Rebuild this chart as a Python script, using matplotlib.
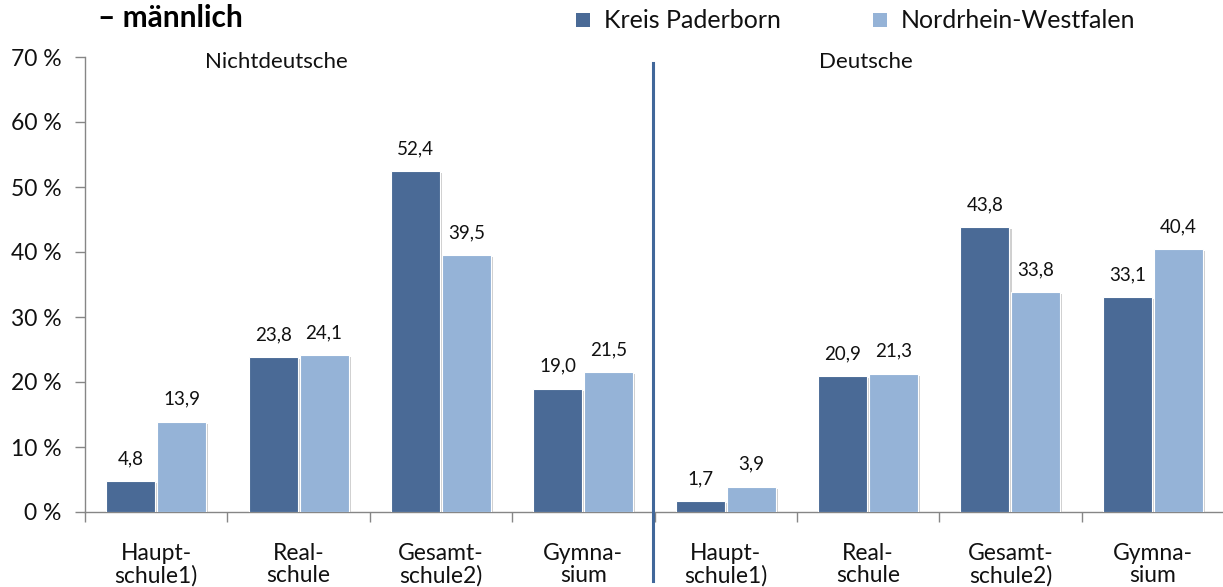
import matplotlib
matplotlib.use("Agg")
import matplotlib.pyplot as plt
import matplotlib.patheffects as pe
from matplotlib.lines import Line2D
from matplotlib.patches import Rectangle
import numpy as np

plt.rcParams['font.family'] = ['Lato', 'DejaVu Sans']

categories = ["Haupt-\nschule1)", "Real-\nschule", "Gesamt-\nschule2)", "Gymna-\nsium",
              "Haupt-\nschule1)", "Real-\nschule", "Gesamt-\nschule2)", "Gymna-\nsium"]
kreis = [4.8, 23.8, 52.4, 19.0, 1.7, 20.9, 43.8, 33.1]
nrw = [13.9, 24.1, 39.5, 21.5, 3.9, 21.3, 33.8, 40.4]
series_names = ["Kreis Paderborn", "Nordrhein-Westfalen"]
group_names = ["Nichtdeutsche", "Deutsche"]
yticks = [0, 10, 20, 30, 40, 50, 60, 70]

c_dark = "#4A6A96"
c_light = "#95B3D7"
axis_col = "#868686"
txt = "#111111"

W, H = 1223, 587
fig = plt.figure(figsize=(W / 100, H / 100), dpi=100)
ax = fig.add_axes([85 / W, 75 / H, (1224 - 85) / W, (512 - 57) / H])

x = np.arange(len(categories))
bw = 0.344
off = 0.179
shadow = [pe.SimplePatchShadow(offset=(1.5, -1.5), shadow_rgbFace="#b0b0b0", alpha=0.6), pe.Normal()]
b1 = ax.bar(x - off, kreis, bw, color=c_dark, edgecolor="white", linewidth=0.8, path_effects=shadow, zorder=3)
b2 = ax.bar(x + off, nrw, bw, color=c_light, edgecolor="white", linewidth=0.8, path_effects=shadow, zorder=3)

for bars, vals in ((b1, kreis), (b2, nrw)):
    for r, v in zip(bars, vals):
        ax.annotate(f"{v:.1f}".replace(".", ","), (r.get_x() + r.get_width() / 2, v),
                    xytext=(0, 10), textcoords="offset points", ha="center", va="bottom",
                    fontsize=13.5, color=txt)

ax.set_xlim(-0.5, len(categories) - 0.5)
ax.set_ylim(0, 70)
ax.set_yticks(yticks)
ax.set_yticklabels([f"{t} %" for t in yticks], fontsize=16.5, color=txt)
ax.set_xticks(x)
ax.set_xticklabels(categories, fontsize=16.5, linespacing=1.1, color=txt)
ax.set_xticks(np.arange(-0.5, len(categories) - 0.4, 1), minor=True)
ax.tick_params(axis="x", which="major", length=0, pad=22)
ax.tick_params(axis="x", which="minor", length=7, color=axis_col, width=1)
ax.tick_params(axis="y", length=7, color=axis_col, width=1, pad=10)

for s in ["top", "right"]:
    ax.spines[s].set_visible(False)
for s in ["left", "bottom"]:
    ax.spines[s].set_color(axis_col)
    ax.spines[s].set_linewidth(1)

# divider
fig.add_artist(Line2D([653 / W, 653 / W], [(H - 581) / H, (H - 63) / H],
                      color="#41679A", linewidth=2.2, transform=fig.transFigure))

# group labels
fig.text(276 / W, (H - 62) / H, group_names[0], ha="center", va="center", fontsize=16, color=txt)
fig.text(866 / W, (H - 62) / H, group_names[1], ha="center", va="center", fontsize=16, color=txt)

# title fragment
fig.text(98 / W, (H - 18) / H, "– männlich", ha="left", va="center", fontsize=21.5,
         fontweight="bold", color="#000000")

# legend
for xs, col, name in ((583, c_dark, series_names[0]), (880, c_light, series_names[1])):
    fig.add_artist(Rectangle(((xs - 7) / W, (H - 27) / H), 14 / W, 14 / H,
                             facecolor=col, edgecolor="none", transform=fig.transFigure))
    fig.text((xs + 21) / W, (H - 20) / H, name, ha="left", va="center", fontsize=18, color=txt)

fig.savefig("out.png", dpi=100)
